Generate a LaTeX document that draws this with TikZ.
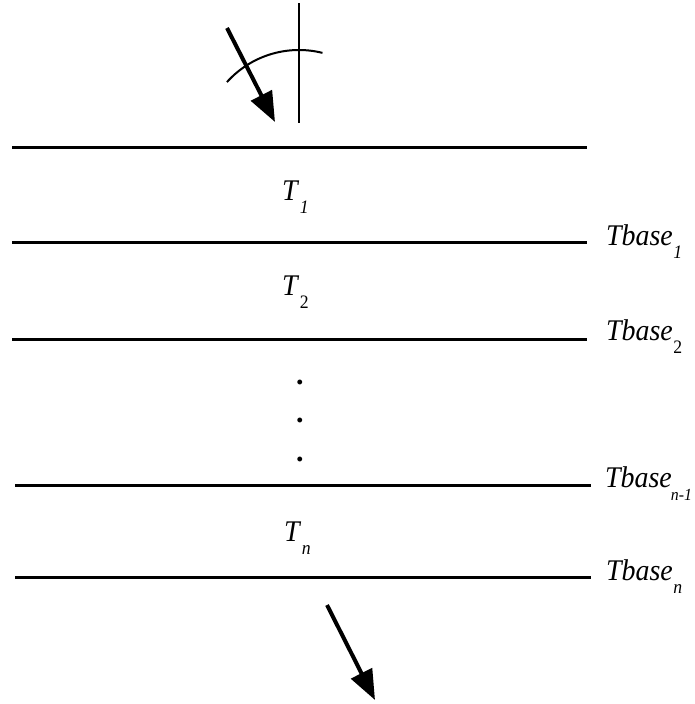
\documentclass[tikz,border=0pt]{standalone}
\usepackage{fontspec}
\usepackage{graphicx}
\setmainfont{Liberation Serif}
\usetikzlibrary{arrows.meta}
\newcommand{\lyrtext}[2]{\scalebox{0.93}[1]{\textit{#1}\kern0.5pt\raisebox{-0.45em}{\fontsize{19}{19}\selectfont #2}}}

\begin{document}
\begin{tikzpicture}[x=1pt, y=-1pt,
        layer/.style={line width=3pt},
        lbl/.style={font=\fontsize{30}{32}\selectfont, inner sep=0pt, anchor=base west},
        arr/.style={-{Triangle[length=30pt,width=23pt]}, line width=4pt}]

        \useasboundingbox (0,0) rectangle (694,704);

        % layer boundaries
        \coordinate (l0a) at (12,147);  \coordinate (l0b) at (587,147);
        \coordinate (l1a) at (12,242);  \coordinate (l1b) at (587,242);
        \coordinate (l2a) at (12,339);  \coordinate (l2b) at (587,339);
        \coordinate (l3a) at (15,485);  \coordinate (l3b) at (591,485);
        \coordinate (l4a) at (15,577);  \coordinate (l4b) at (591,577);

        \draw[layer] (l0a) -- (l0b);
        \draw[layer] (l1a) -- (l1b);
        \draw[layer] (l2a) -- (l2b);
        \draw[layer] (l3a) -- (l3b);
        \draw[layer] (l4a) -- (l4b);

        % incident ray, normal and angle
        \coordinate (ctr)   at (299,147);
        \coordinate (ntop)  at (299,3);
        \coordinate (nbot)  at (299,123);
        \coordinate (inA)   at (227,28);
        \coordinate (inB)   at (275,122);
        \draw[line width=2pt] (ntop) -- (nbot);
        \draw[line width=2pt] (ctr) ++(76:97pt) arc[start angle=76, end angle=138, radius=97pt];
        \draw[arr] (inA) -- (inB);

        % outgoing ray
        \coordinate (outA) at (327,605);
        \coordinate (outB) at (375,700);
        \draw[arr] (outA) -- (outB);

        % layer temperatures
        \node[lbl] (t1) at (282,200) {\lyrtext{T}{\textit{1}}};
        \node[lbl] (t2) at (282,295) {\lyrtext{T}{2}};
        \node[lbl] (tn) at (284,541) {\lyrtext{T}{\textit{n}}};

        \node[lbl] (d1) at (296,384) {\textbf{.}};
        \node[lbl] (d2) at (296,422) {\textbf{.}};
        \node[lbl] (d3) at (296,461) {\textbf{.}};

        % base temperatures
        \node[lbl] (b1)  at (606,245) {\lyrtext{Tbase}{\textit{1}}};
        \node[lbl] (b2)  at (606,340) {\lyrtext{Tbase}{2}};
        \node[lbl] (bn1) at (605,487) {\lyrtext{Tbase}{\kern-1.5pt\fontsize{17}{17}\selectfont\textit{n-1}}};
        \node[lbl] (bn)  at (606,580) {\lyrtext{Tbase}{\textit{n}}};

    \end{tikzpicture}
\end{document}
